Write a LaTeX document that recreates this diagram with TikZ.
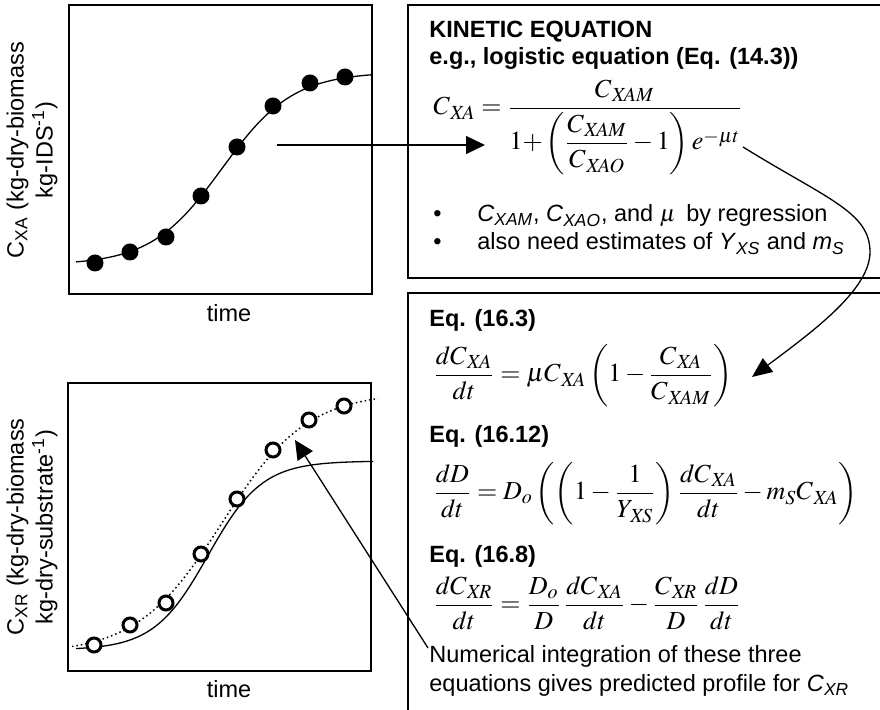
\documentclass[tikz,border=0pt]{standalone}
\usepackage{amsmath}
\usepackage{mathptmx}
\usepackage[no-math]{fontspec}
\setmainfont{Liberation Sans}
\DeclareMathSizes{13}{13}{10}{8}
\usetikzlibrary{arrows.meta}
\newcommand{\sbk}{\mkern1.5mu}
\begin{document}
\begin{tikzpicture}[x=0.5pt,y=-0.5pt,
  txt/.style={font=\fontsize{11.75}{13.5}\selectfont, inner sep=0pt, anchor=base west},
  btxt/.style={txt, font=\fontsize{11.75}{13.5}\selectfont\bfseries},
  eqn/.style={font=\fontsize{13}{15}\selectfont, inner sep=0pt, anchor=base west},
  ylab/.style={rotate=90, align=center, inner sep=0pt, font=\fontsize{11.75}{14.5}\selectfont},
  plotbox/.style={draw, line width=0.8pt},
  textbox/.style={draw, line width=0.65pt},
  curve/.style={line width=0.65pt},
  dotcurve/.style={line width=0.75pt, dash pattern=on 0.75pt off 1.5pt},
  fdot/.style={circle, fill=black, minimum size=8.5pt, inner sep=0pt},
  odot/.style={circle, draw=black, fill=white, line width=1.5pt, minimum size=7pt, inner sep=0pt},
  arr/.style={line width=0.65pt, -{Triangle[length=9.5pt,width=9pt]}},
  arrb/.style={line width=0.65pt, -{Triangle[length=10pt,width=8.5pt]}}
]
\useasboundingbox (0,0) rectangle (880,710);
\clip (0,0) rectangle (880,710);

% ---------- top-left plot ----------
\draw[plotbox] (69,5) rectangle (372,294);
\draw[curve] plot[domain=76:372, samples=90] (\x, {265-193/(1+exp(-0.0282*(\x-222)))});
\foreach \i/\px/\py in {1/95/263, 2/130/252, 3/166/237, 4/201/196, 5/237/147, 6/273/106, 7/310/83, 8/345/77}
  \node[fdot] (fd\i) at (\px,\py) {};
\node[ylab] (ylabA) at (32,150) {C\textsubscript{XA} (kg-dry-biomass\\kg-IDS\textsuperscript{-1})};
\node[txt, anchor=base] (timeA) at (229,322) {time};

% ---------- bottom-left plot ----------
\draw[plotbox] (68,383) rectangle (371,671);
\draw[curve] plot[domain=76:373, samples=90] (\x, {650-189/(1+exp(-0.037*(\x-208)))});
\draw[dotcurve] plot[domain=72:378, samples=90] (\x, {654-262/(1+exp(-0.0235*(\x-222)))});
\foreach \i/\px/\py in {1/94/645, 2/130/625, 3/166/603, 4/201/554, 5/237/499, 6/273/450, 7/309/420, 8/344/406}
  \node[odot] (od\i) at (\px,\py) {};
\node[ylab] (ylabR) at (32,527) {C\textsubscript{XR} (kg-dry-biomass\\kg-dry-substrate\textsuperscript{-1})};
\node[txt, anchor=base] (timeR) at (229,698) {time};

% ---------- top-right box ----------
\draw[textbox] (408,5) rectangle (900,278);
\node[btxt] (kin) at (429,38) {KINETIC EQUATION};
\node[btxt] (eg) at (429,65) {e.g., logistic equation (Eq. (14.3))};
\node[eqn] (eqlog) at (433,115) {$C_{\sbk X\!A} = \dfrac{C_{\sbk X\!AM}}{1{+}\left(\dfrac{C_{\sbk X\!AM}}{C_{\sbk X\!AO}}-1\right)e^{-\mu t}}$};
\node[txt] (b1) at (433,222) {\textbullet};
\node[txt] (l1) at (477,222) {\textit{C}\textsubscript{\textit{XAM}}, \textit{C}\textsubscript{\textit{XAO}}, and $\mu$\, by regression};
\node[txt] (b2) at (433,250) {\textbullet};
\node[txt] (l2) at (477,250) {also need estimates of \textit{Y}\textsubscript{\textit{XS}} and \textit{m}\textsubscript{\textit{S}}};

% ---------- bottom-right box ----------
\draw[textbox] (408,293) rectangle (900,730);
\node[btxt] (e163) at (429,327) {Eq. (16.3)};
\node[eqn] (eqA) at (433,382) {$\dfrac{dC_{\sbk X\!A}}{dt} = \mu C_{\sbk X\!A}\left(1-\dfrac{C_{\sbk X\!A}}{C_{\sbk X\!AM}}\right)$};
\node[btxt] (e1612) at (429,443) {Eq. (16.12)};
\node[eqn] (eqB) at (433,500) {$\dfrac{dD}{dt} = D_o\left(\left(1-\dfrac{1}{Y_{\sbk X\!S}}\right)\dfrac{dC_{\sbk X\!A}}{dt} - m_S C_{\sbk X\!A}\right)$};
\node[btxt] (e168) at (429,563) {Eq. (16.8)};
\node[eqn] (eqC) at (433,612) {$\dfrac{dC_{\sbk X\!R}}{dt} = \dfrac{D_o}{D}\,\dfrac{dC_{\sbk X\!A}}{dt} - \dfrac{C_{\sbk X\!R}}{D}\,\dfrac{dD}{dt}$};
\node[txt] (num1) at (429,663) {Numerical integration of these three};
\node[txt] (num2) at (429,692) {equations gives predicted profile for \textit{C}\textsubscript{\textit{XR}}};

% ---------- arrows ----------
\coordinate (a1s) at (277,145);
\coordinate (a1e) at (485,145);
\draw[arr] (a1s) -- (a1e);

\coordinate (a2s) at (743,147);
\coordinate (a2m) at (870,252);
\coordinate (a2e) at (752,377);
\draw[arrb] (a2s) .. controls (827,199) and (870,212) .. (a2m)
             .. controls (870,290) and (812,332) .. (a2e);

\coordinate (a3s) at (428,648);
\coordinate (a3e) at (295,440);
\draw[arr] (a3s) -- (a3e);
\end{tikzpicture}
\end{document}
